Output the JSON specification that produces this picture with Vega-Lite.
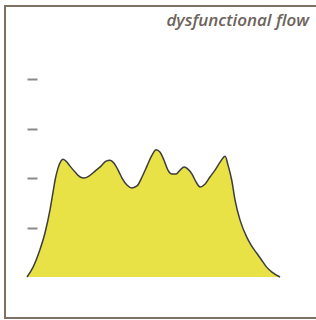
{
  "$schema": "https://vega.github.io/schema/vega-lite/v6.json",
  "autosize": "none",
  "width": 314,
  "height": 312,
  "padding": {"left": 5, "top": 6, "right": 0, "bottom": 2},
  "background": "white",
  "config": {
    "view": {"stroke": "#7d7165", "strokeWidth": 2}
  },
  "title": {
    "text": "dysfunctional flow",
    "anchor": "end",
    "orient": "top",
    "offset": -37,
    "dx": -10,
    "baseline": "alphabetic",
    "font": "Open Sans",
    "fontStyle": "italic",
    "fontWeight": 600,
    "fontSize": 17,
    "color": "#6d645b"
  },
  "data": {
    "values": [
      {"t": 0, "flow": 0},
      {"t": 2.4, "flow": 0.2},
      {"t": 5.1, "flow": 0.55},
      {"t": 7.1, "flow": 0.89},
      {"t": 9.1, "flow": 1.36},
      {"t": 10.3, "flow": 1.72},
      {"t": 11.1, "flow": 1.96},
      {"t": 12.25, "flow": 2.2},
      {"t": 13.4, "flow": 2.34},
      {"t": 14.2, "flow": 2.38},
      {"t": 15.4, "flow": 2.34},
      {"t": 17.0, "flow": 2.24},
      {"t": 19.0, "flow": 2.12},
      {"t": 21.0, "flow": 2.02},
      {"t": 22.5, "flow": 2.0},
      {"t": 24.5, "flow": 2.04},
      {"t": 26.9, "flow": 2.14},
      {"t": 29.25, "flow": 2.24},
      {"t": 31.2, "flow": 2.34},
      {"t": 32.8, "flow": 2.36},
      {"t": 34.4, "flow": 2.3},
      {"t": 36.0, "flow": 2.16},
      {"t": 37.55, "flow": 2.0},
      {"t": 39.5, "flow": 1.86},
      {"t": 41.5, "flow": 1.8},
      {"t": 43.5, "flow": 1.84},
      {"t": 45.45, "flow": 2.02},
      {"t": 47.4, "flow": 2.24},
      {"t": 49.4, "flow": 2.46},
      {"t": 51.0, "flow": 2.57},
      {"t": 52.6, "flow": 2.52},
      {"t": 54.15, "flow": 2.36},
      {"t": 55.7, "flow": 2.16},
      {"t": 57.3, "flow": 2.08},
      {"t": 58.9, "flow": 2.08},
      {"t": 60.5, "flow": 2.16},
      {"t": 62.1, "flow": 2.22},
      {"t": 63.6, "flow": 2.18},
      {"t": 65.2, "flow": 2.08},
      {"t": 66.8, "flow": 1.92},
      {"t": 68.4, "flow": 1.82},
      {"t": 70.4, "flow": 1.88},
      {"t": 72.3, "flow": 2.02},
      {"t": 74.3, "flow": 2.16},
      {"t": 76.3, "flow": 2.32},
      {"t": 78.3, "flow": 2.44},
      {"t": 79.45, "flow": 2.26},
      {"t": 80.9, "flow": 1.96},
      {"t": 82.2, "flow": 1.56},
      {"t": 84.2, "flow": 1.15},
      {"t": 86.8, "flow": 0.81},
      {"t": 88.5, "flow": 0.65},
      {"t": 90.8, "flow": 0.48},
      {"t": 92.5, "flow": 0.36},
      {"t": 94.7, "flow": 0.2},
      {"t": 96.8, "flow": 0.1},
      {"t": 100, "flow": 0}
    ]
  },
  "encoding": {
    "x": {
      "field": "t",
      "type": "quantitative",
      "scale": {"domain": [-8.7, 115.4], "nice": false, "zero": false},
      "axis": null
    },
    "y": {
      "field": "flow",
      "type": "quantitative",
      "scale": {"domain": [-0.828, 5.475], "nice": false, "zero": false},
      "axis": {
        "values": [1, 2, 3, 4],
        "labels": false,
        "domain": false,
        "grid": false,
        "title": null,
        "ticks": true,
        "tickSize": 10,
        "tickWidth": 2,
        "tickColor": "#8a8a8a",
        "offset": -32
      }
    }
  },
  "layer": [
    {
      "mark": {"type": "area", "interpolate": "monotone", "color": "#e8e246"},
      "encoding": {"y2": {"datum": 0}}
    },
    {
      "mark": {"type": "line", "interpolate": "monotone", "color": "#3d3d3d", "strokeWidth": 1.5}
    }
  ]
}
